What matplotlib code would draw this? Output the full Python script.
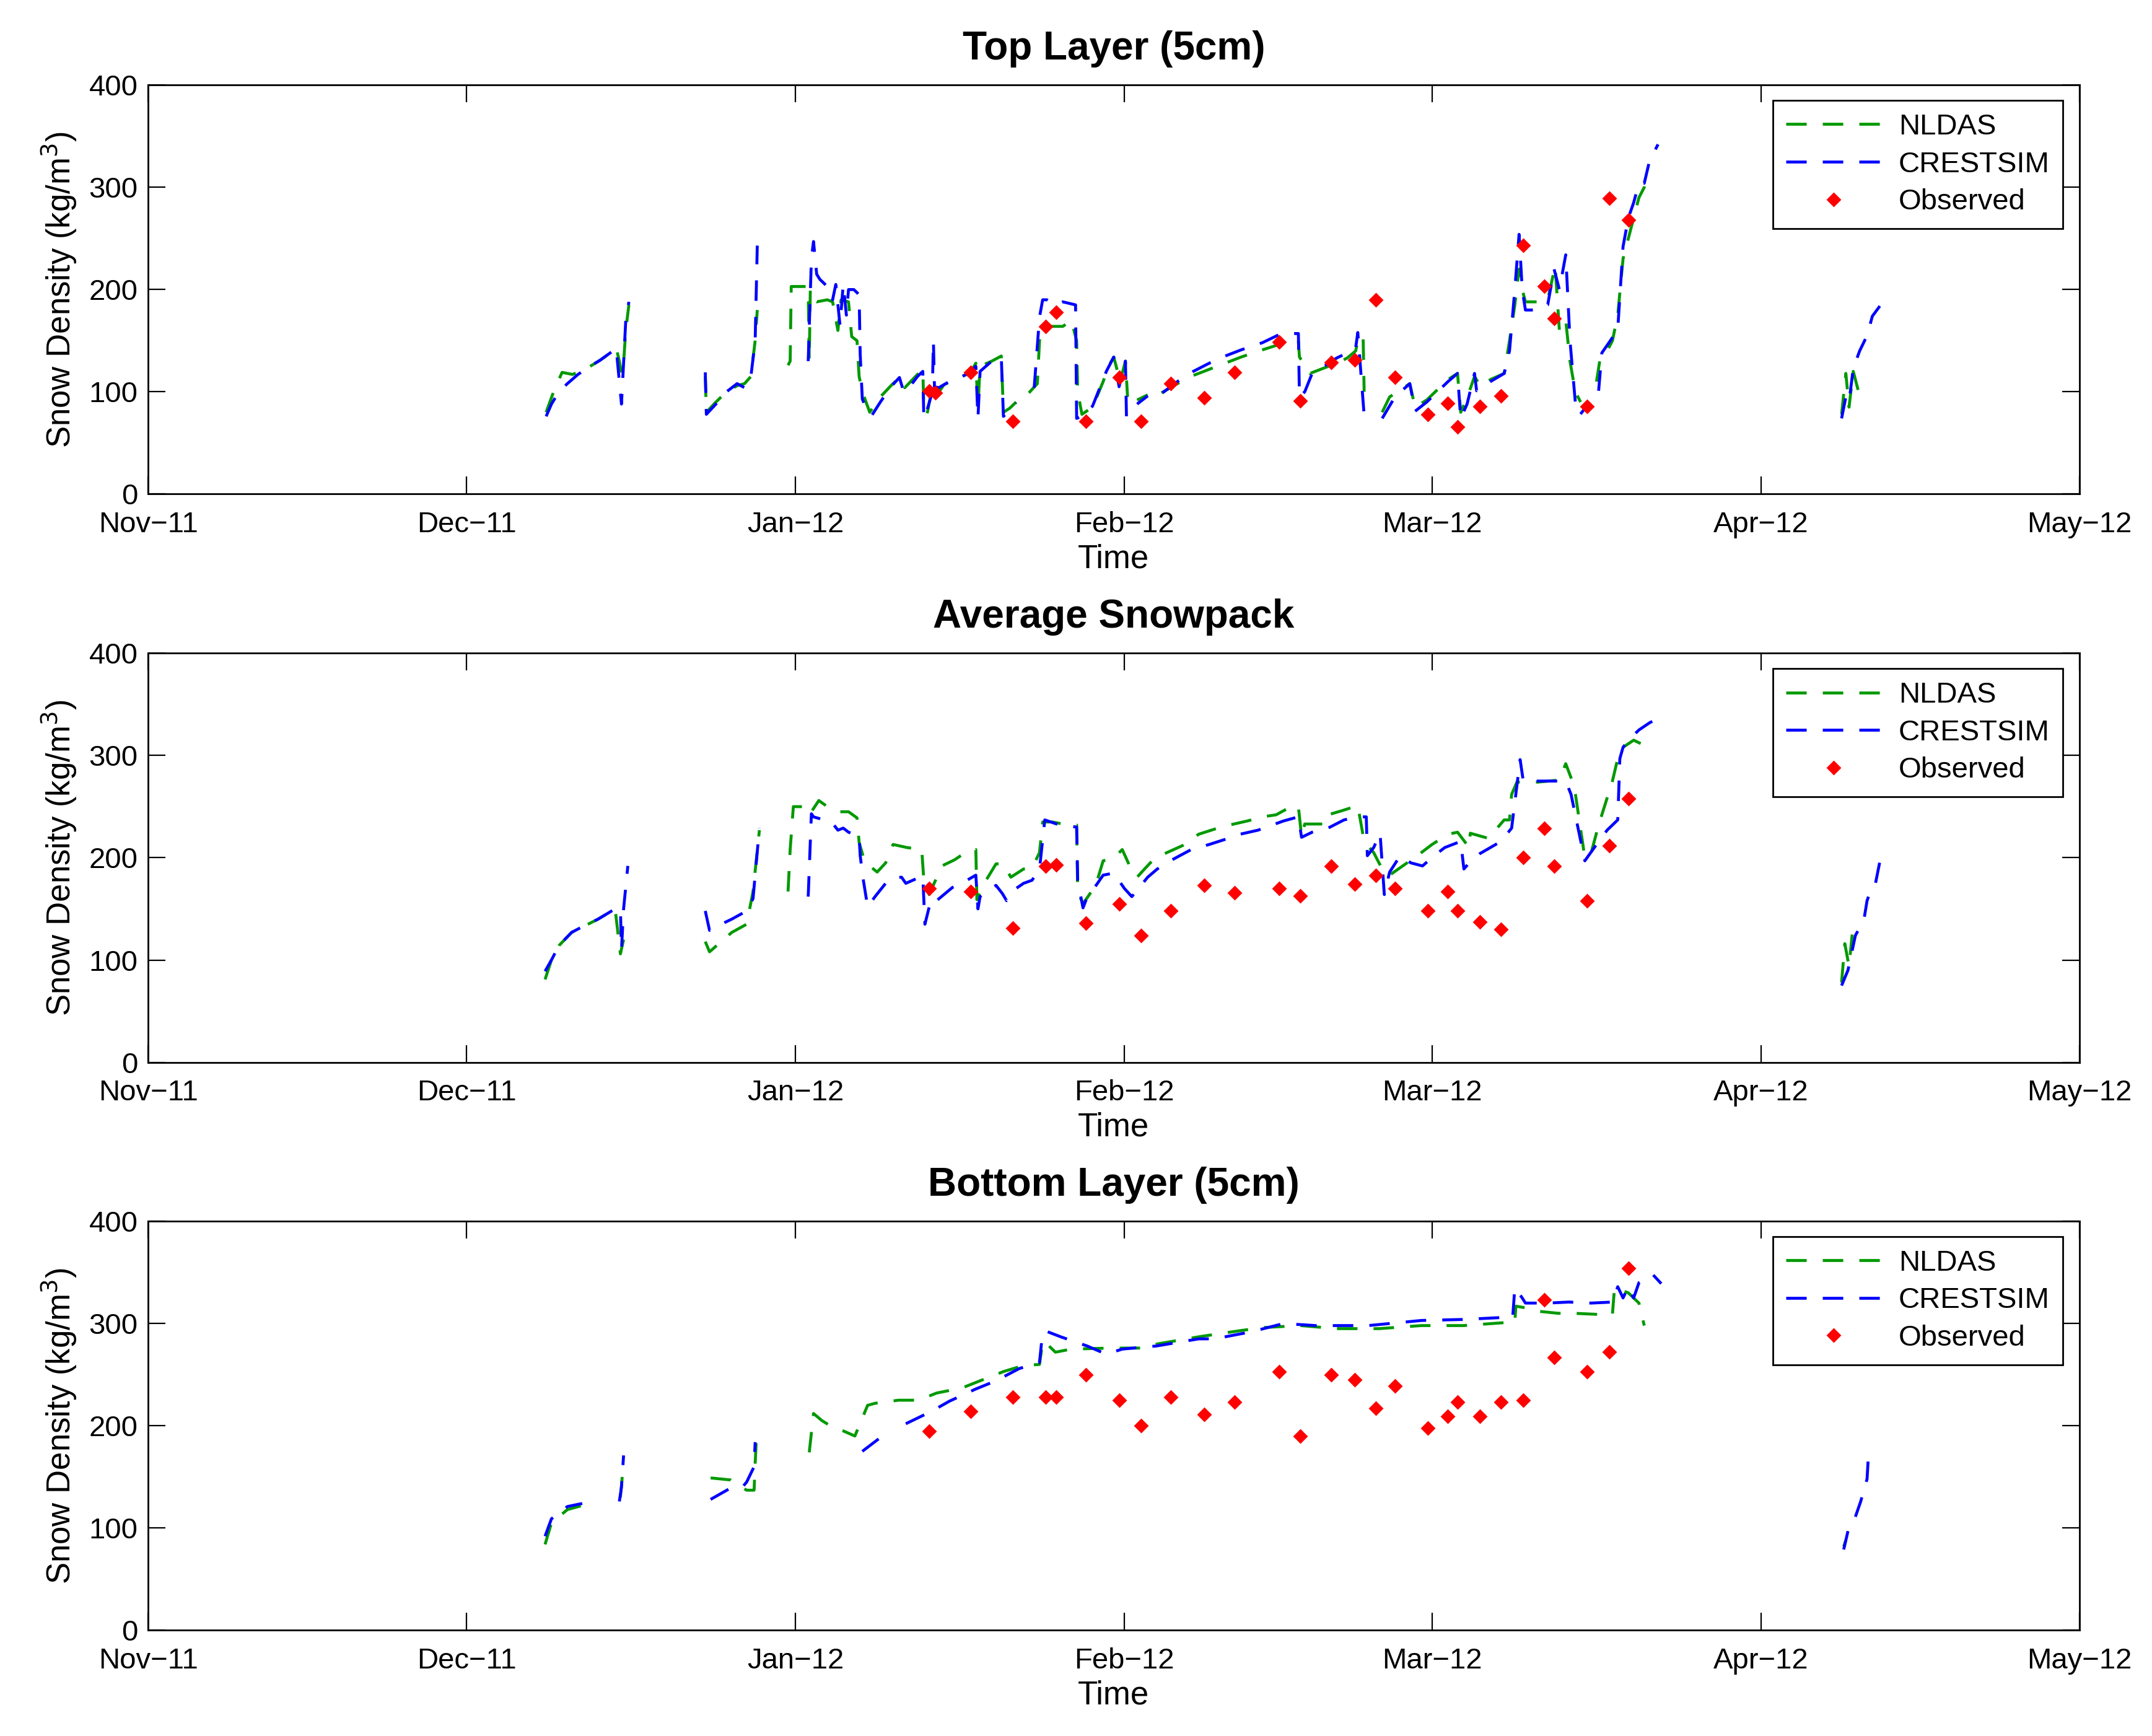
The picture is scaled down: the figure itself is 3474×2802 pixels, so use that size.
import numpy as np
import matplotlib
matplotlib.use("Agg")
import matplotlib.pyplot as plt
import matplotlib.dates as mdates

nan = np.nan

# days since 2011-11-01, nan breaks the line
top_crest_days = [37.5, 38.0, 38.7, 39.5, 40.5, 41.5, 42.6, 43.8, 44.1, 44.6, 44.8, 45.0, 45.3, 45.4,
                  52.5, 52.6, 53.5, 54.5, 55.5, 56.2, 56.8, 57.2, 57.4, 57.5,
                  62.2, 62.5, 62.7, 63.0, 63.3, 63.8, 64.3, 64.5, 64.8, 65.2, 65.5, 65.8, 66.0, 66.5, 67.0,
                  67.1, 67.3, 67.8, 68.2, 69.0, 70.0, 70.8, 71.2, 71.7, 72.5, 73.0, 73.1, 73.4, 73.9, 74.0,
                  74.1, 74.5, 75.5, 76.5, 77.5, 78.0, 78.2, 78.4, 79.5, 80.4, 80.6, 81.2, 81.8, 82.0,
                  83.5, 84.0, 84.3, 84.7, 85.5, 86.2, 87.4, 87.5, 88.0, 89.0, 90.3, 91.0, 91.5, 92.1, 92.2, 92.5,
                  93.2, 94.2, 94.5,
                  95.6, 97.0, 98.5, 100.0, 101.5, 103.0, 105.0, 106.8, 107.5, 108.4, 108.5, 109.0, 109.7,
                  111.0, 112.0, 113.0, 113.8, 114.0, 114.6, 115.0,
                  116.3, 117.5, 118.9, 119.4, 120.5, 121.5, 122.5, 123.4, 123.7, 124.3, 125.0, 125.2, 126.5,
                  127.8, 128.3, 128.8, 129.2, 129.5, 129.8, 131.0, 131.9, 132.5, 133.0, 133.6, 134.0, 134.5,
                  134.9, 135.5, 136.0,
                  136.7, 137.0, 137.8, 138.5, 139.0, 139.5, 140.0, 140.5, 141.0, 141.5, 142.3, 142.5,
                  159.6, 160.0, 160.3, 160.7, 161.3, 162.0, 162.5, 163.5]
top_crest_vals = [76, 88, 100, 108, 117, 124, 131, 140, 143, 88, 128, 169, 188, nan,
                  119, 78, 88, 100, 108, 104, 115, 150, 243, nan,
                  130, 230, 247, 215, 210, 205, 200, 190, 205, 165, 205, 175, 200, 200, 195,
                  137, 93, 80, 77, 90, 105, 114, 100, 104, 115, 120, 74, 82, 100, 150,
                  105, 104, 110, 114, 119, 125, 74, 120, 130, 134, 76, 82, 89, nan,
                  104, 173, 190, 190, 185, 188, 185, 74, 76, 86, 120, 134, 105, 130, 74, nan,
                  88, 96, nan,
                  99, 110, 120, 128, 135, 141, 148, 157, 157, 157, 95, 100, 118,
                  126, 133, 138, 143, 158, 77, nan,
                  74, 95, 108, 81, 90, 100, 110, 118, 74, 88, 118, 101, 110,
                  118, 140, 200, 254, 200, 180, 180, 185, 220, 200, 234, 150, 90,
                  77, 85, nan,
                  101, 138, 150, 161, 242, 270, 285, 304, 304, 326, 342, nan,
                  74, 95, 90, 123, 140, 155, 174, 188]

top_nldas_days = [37.5, 38.2, 39.0, 40.0, 41.5, 42.6, 43.8, 44.1, 44.4, 44.6, 44.8, 45.0, 45.3, 45.4,
                  52.5, 52.6, 53.5, 54.5, 55.5, 56.2, 56.8, 57.2, 57.4, 57.5,
                  60.3, 60.5, 60.6, 61.0, 62.0, 62.2, 62.3, 62.4, 62.6, 63.0, 64.0, 64.5, 65.0, 65.3, 66.0,
                  66.3, 66.8, 67.0, 67.3, 68.0, 69.0, 70.0, 70.8, 71.3, 72.5, 73.0, 73.1, 73.4, 73.9, 74.2,
                  75.0, 76.5, 77.5, 78.0, 78.2, 78.4, 79.5, 80.4, 80.6, 81.2, 81.8, 82.0,
                  83.0, 83.8, 84.0, 84.3, 85.0, 86.2, 87.0, 87.5, 87.6, 88.0, 89.0, 90.0, 90.5, 91.0, 91.6,
                  92.1, 92.3, 92.5,
                  93.2, 94.2, 94.5,
                  95.5, 97.0, 98.5, 100.0, 101.5, 103.0, 105.0, 106.8, 107.9, 108.4, 108.5, 109.5, 111.0,
                  112.0, 113.0, 113.8, 114.0, 114.5, 114.6, 115.0,
                  116.3, 117.0, 118.9, 119.4, 120.5, 121.5, 122.5, 123.4, 123.7, 124.3, 125.0, 125.6, 126.5,
                  127.8, 128.3, 128.8, 129.2, 129.5, 129.8, 131.0, 131.9, 132.6, 133.0, 133.6, 134.0, 134.5,
                  135.0, 135.5,
                  136.5, 136.8, 137.5, 138.0, 138.5, 139.0, 139.5, 140.0, 140.5, 141.0, 141.3, 141.5,
                  159.6, 160.0, 160.3, 160.7, 161.2]
top_nldas_vals = [80, 100, 119, 117, 124, 131, 140, 143, 130, 118, 128, 160, 185, nan,
                  115, 80, 90, 100, 106, 108, 115, 150, 180, nan,
                  126, 130, 203, 203, 203, 200, 130, 200, 190, 188, 190, 188, 160, 190, 188,
                  154, 150, 115, 100, 80, 95, 106, 114, 104, 117, 122, 85, 78, 105, 95,
                  107, 114, 119, 128, 85, 125, 130, 135, 80, 84, 90, nan,
                  99, 108, 150, 164, 164, 164, 170, 150, 100, 78, 85, 110, 125, 134, 110,
                  130, 95, nan,
                  92, 97, nan,
                  99, 108, 116, 122, 128, 134, 141, 147, 149, 150, 134, 118, 124,
                  128, 133, 140, 150, 155, 100, nan,
                  80, 95, 108, 85, 92, 102, 112, 118, 80, 94, 115, 105, 112,
                  118, 150, 185, 220, 200, 188, 188, 190, 223, 160, 170, 130, 100,
                  90, nan,
                  110, 130, 140, 150, 175, 230, 250, 270, 290, 300, 310, nan,
                  78, 118, 85, 120, 100]

mid_crest_days = [37.4, 38.0, 38.7, 39.9, 41.0, 42.4, 44.0, 44.5, 44.6, 44.8, 45.2, 45.4,
                  52.5, 52.9, 54.0, 55.0, 56.4, 57.0, 57.6, 57.8,
                  62.2, 62.5, 62.7, 63.7, 64.4, 65.0, 65.5, 66.0, 67.0, 67.1, 67.4, 67.8, 68.5, 69.5, 70.0,
                  71.0, 71.4, 72.5, 73.0, 73.2, 73.8, 74.3, 75.8, 77.0, 78.0, 78.2, 78.4, 79.9, 80.5, 80.9,
                  81.8, 82.5, 83.3, 84.0, 84.5, 85.9, 87.5, 87.6, 88.1, 88.4, 90.0, 91.0, 92.0, 92.7, 94.2,
                  95.1, 96.5, 98.3, 100.0, 101.5, 102.9, 104.6, 107.0, 108.4, 108.7, 109.7, 111.2, 112.7,
                  114.0, 114.8, 114.9, 115.5, 116.1, 116.5, 117.0, 118.0, 119.0, 120.1, 121.2, 122.2, 123.7,
                  124.0, 124.5, 125.5, 127.5, 128.5, 129.3, 129.6, 132.6, 133.6, 134.1, 135.4, 136.5, 137.5,
                  138.5, 138.7, 139.0, 139.5, 140.5, 141.5, 142.6, 142.8,
                  159.6, 160.2, 160.9, 161.7, 162.0, 162.2, 162.7, 163.2]
mid_crest_vals = [89, 100, 114, 127, 133, 140, 150, 150, 110, 150, 192, nan,
                  148, 129, 135, 140, 148, 160, 229, nan,
                  162, 243, 240, 237, 235, 227, 229, 225, 221, 202, 178, 152, 162, 175, 180,
                  181, 175, 180, 182, 135, 160, 158, 171, 177, 183, 150, 162, 173, 165, 158,
                  170, 175, 178, 189, 237, 232, 230, 178, 151, 159, 183, 185, 170, 162, 181,
                  189, 198, 208, 213, 218, 223, 227, 236, 240, 220, 225, 229, 237,
                  240, 240, 202, 210, 224, 164, 186, 202, 195, 192, 202, 210, 216,
                  189, 195, 204, 216, 229, 296, 275, 275, 275, 262, 197, 213, 227,
                  237, 297, 308, 315, 325, 332, 338, nan,
                  75, 90, 124, 139, 158, 164, 170, 196]

mid_nldas_days = [37.4, 38.0, 38.7, 39.9, 42.4, 44.0, 44.5, 44.8, 45.0,
                  52.5, 52.9, 54.0, 55.0, 56.4, 57.0, 57.6, 57.8,
                  60.3, 60.5, 60.8, 61.7, 62.0, 62.5, 63.2, 64.0, 64.4, 65.0, 66.0, 66.8, 67.0, 67.5, 68.0,
                  68.7, 69.5, 70.2, 71.5, 72.9, 73.1, 73.6, 74.8, 76.0, 77.0, 78.0, 78.1, 78.5, 79.9, 80.6,
                  81.3, 82.5, 83.3, 84.0, 84.3, 85.2, 86.2, 87.2, 87.5, 87.6, 88.1, 89.3, 90.0, 91.0, 91.8,
                  92.5, 93.2, 93.9, 94.9, 96.0, 97.5, 99.0, 100.5, 101.9, 103.6, 105.0, 106.3, 107.7, 108.4,
                  108.7, 109.0, 111.0, 111.2, 112.5, 114.0, 114.6, 115.5, 116.5, 117.0, 119.6, 121.0, 122.5,
                  123.4, 124.5, 124.6, 126.3, 127.8, 128.3, 128.5, 129.0, 131.0, 133.0, 133.6, 134.4, 135.4,
                  136.0, 136.7, 138.0, 138.5, 139.0, 140.0, 141.0, 141.2,
                  159.6, 159.9, 160.3, 160.6, 161.0]
mid_nldas_vals = [81, 100, 114, 127, 140, 150, 106, 120, nan,
                  118, 108, 118, 127, 135, 167, 227, nan,
                  167, 208, 250, 250, 243, 245, 256, 250, 248, 245, 245, 239, 215, 197, 192,
                  186, 195, 213, 210, 208, 178, 164, 192, 198, 205, 208, 159, 170, 194, 194,
                  181, 189, 190, 205, 235, 235, 233, 232, 232, 167, 155, 173, 197, 200, 208,
                  192, 181, 189, 200, 205, 212, 223, 228, 232, 236, 240, 242, 250, 250,
                  221, 233, 233, 242, 246, 251, 216, 205, 185, 183, 202, 213, 223,
                  225, 210, 224, 219, 237, 237, 262, 274, 274, 276, 292, 270, 200,
                  205, 232, 275, 297, 308, 315, 310, nan,
                  78, 116, 94, 125, 128]

bot_crest_days = [37.4, 38.0, 39.5, 40.9, 41.2,
                  44.4, 44.6, 44.8, 45.0,
                  53.0, 54.7, 56.0, 56.4, 57.1, 57.2, 57.4,
                  67.3, 69.7, 70.5,
                  71.4, 73.8, 75.5, 78.0, 79.9, 82.1, 84.0, 84.2, 84.5, 86.0, 87.4, 88.5, 90.3, 91.8, 95.0,
                  99.0, 100.5, 104.0, 107.0, 110.0, 115.0, 120.0, 124.0, 127.8, 128.6, 128.8, 129.5, 129.8,
                  131.9, 133.9, 136.0, 138.0, 138.5, 139.0, 139.5, 140.0, 140.5, 141.8, 142.6, 142.8,
                  159.8, 160.2, 160.5,
                  160.9, 161.4, 162.0, 162.1]
bot_crest_vals = [92, 109, 121, 124, nan,
                  126, 140, 171, nan,
                  128, 138, 140, 145, 160, 184, nan,
                  175, 194, nan,
                  202, 214, 224, 236, 244, 256, 262, 282, 293, 287, 282, 278, 270, 275, 278,
                  285, 285, 292, 300, 298, 298, 303, 304, 306, 306, 335, 325, 320,
                  320, 321, 320, 321, 336, 325, 336, 325, 340, 348, 339, nan,
                  79, 97, nan,
                  111, 126, 148, 166]

bot_nldas_days = [37.4, 38.0, 39.5, 40.9, 41.2,
                  44.5, 44.8, 45.0,
                  53.0, 54.9, 56.4, 57.1, 57.2, 57.3, 57.5,
                  62.3, 62.7, 63.5, 64.6, 65.5, 66.6, 67.0, 67.8, 68.5, 70.7, 72.6, 74.3, 76.7, 78.4, 80.6,
                  82.5, 84.0, 84.3, 84.5, 85.5, 87.0, 90.8, 93.7, 95.1, 99.0, 102.9, 105.0, 108.6, 112.0,
                  116.0, 120.0, 124.0, 128.0, 128.8, 128.9, 130.0, 131.0, 132.9, 134.4, 136.5, 138.0, 138.2,
                  139.5, 140.5, 141.0, 141.2,
                  159.8, 160.0]
bot_nldas_vals = [84, 105, 118, 122, nan,
                  130, 165, nan,
                  149, 147, 137, 137, 163, 184, nan,
                  174, 212, 205, 198, 195, 190, 200, 220, 222, 225, 225, 232, 237, 244, 253,
                  259, 260, 282, 282, 272, 275, 276, 276, 280, 287, 293, 296, 298, 295,
                  295, 298, 298, 301, 301, 317, 315, 312, 310, 310, 309, 309, 335,
                  330, 320, 298, nan,
                  82, 88]

obs_days = [73.6, 74.2, 77.5, 81.5, 84.6, 85.6, 88.4, 91.5, 93.6, 96.4, 99.5, 102.4, 106.6, 108.6,
            111.5, 113.7, 115.7, 117.5, 120.6, 122.5, 123.4, 125.5, 127.5, 129.6, 131.6, 132.5,
            135.6, 137.7, 139.5]
top_obs = [101, 99, 119, 71, 164, 178, 71, 114, 71, 108, 94, 119, 149, 91,
           129, 131, 190, 114, 78, 89, 66, 86, 96, 243, 203, 172, 86, 289, 268]
mid_obs = [170, nan, 167, 131, 192, 193, 136, 155, 124, 148, 173, 166, 170, 163,
           192, 174, 183, 170, 148, 167, 148, 137, 130, 200, 229, 192, 158, 212, 258]
bot_obs = [195, nan, 214, 228, 228, 228, 250, 225, 200, 228, 211, 223, 253, 190,
           250, 245, 217, 239, 198, 209, 223, 209, 223, 225, 323, 267, 253, 272, 354]

titles = ["Top Layer (5cm)", "Average Snowpack", "Bottom Layer (5cm)"]


def to_dates(days):
    base = np.datetime64("2011-11-01T00:00")
    return base + (np.array(days) * 24 * 60).astype("timedelta64[m]")


plt.rcParams["font.family"] = ["Liberation Sans", "DejaVu Sans"]
plt.rcParams["font.size"] = 17

fig = plt.figure(figsize=(17.37, 14.01), dpi=200)
boxes = [(0.0689, 0.7154), (0.0689, 0.3881), (0.0689, 0.0609)]
panels = [
    (top_nldas_days, top_nldas_vals, top_crest_days, top_crest_vals, top_obs),
    (mid_nldas_days, mid_nldas_vals, mid_crest_days, mid_crest_vals, mid_obs),
    (bot_nldas_days, bot_nldas_vals, bot_crest_days, bot_crest_vals, bot_obs),
]
green = (0, 0.6, 0)
dash = (7, 5.5)

for (left, bottom), title, (nd, nv, cd, cv, ov) in zip(boxes, titles, panels):
    ax = fig.add_axes([left, bottom, 0.8973, 0.2356])
    ax.plot(to_dates(nd), nv, color=green, lw=1.7, dashes=dash, label="NLDAS")
    ax.plot(to_dates(cd), cv, color="blue", lw=1.7, dashes=dash, label="CRESTSIM")
    ax.plot(to_dates(obs_days), ov, ls="none", marker="D", ms=5, color="red",
            mec="red", label="Observed")

    ax.set_xlim(np.datetime64("2011-11-01"), np.datetime64("2012-05-01"))
    ax.set_ylim(0, 400)
    ax.set_yticks([0, 100, 200, 300, 400])
    ax.xaxis.set_major_locator(mdates.MonthLocator())
    ax.xaxis.set_major_formatter(mdates.DateFormatter("%b\u2212%y"))
    ax.tick_params(direction="in", top=True, right=True, length=10, width=0.8,
                   labelsize=17, pad=6)
    ax.tick_params(axis="x", pad=10)
    for s in ax.spines.values():
        s.set_linewidth(1.0)
    ax.set_title(title, fontsize=23, fontweight="bold", pad=15)
    ax.set_xlabel("Time", fontsize=19, labelpad=3)
    ax.set_ylabel("Snow Density (kg/m$^3$)", fontsize=19, labelpad=6)

    leg = ax.legend(loc="upper right", bbox_to_anchor=(0.9915, 0.963), borderaxespad=0,
                    fontsize=17, handlelength=3.25, handletextpad=0.6, borderpad=0.45,
                    labelspacing=0.35, fancybox=False, framealpha=1, edgecolor="black")
    leg.get_frame().set_linewidth(1.0)

fig.savefig("out.png", dpi=200)
